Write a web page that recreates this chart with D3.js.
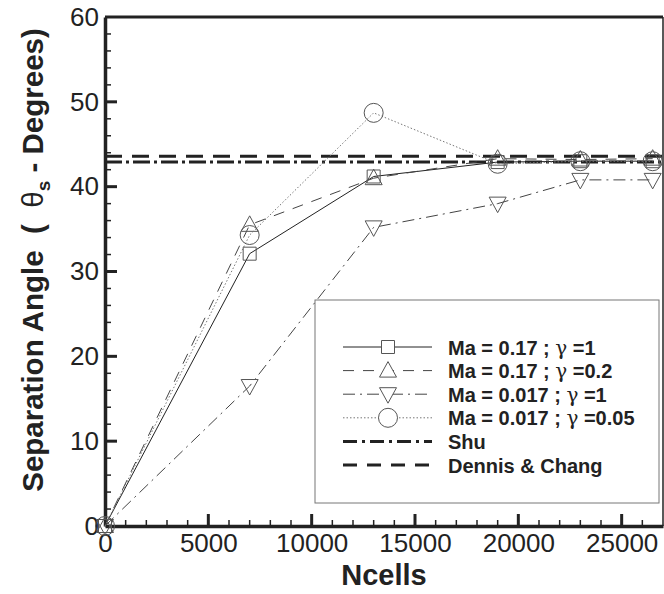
<!DOCTYPE html>
<html>
<head>
<meta charset="utf-8">
<script src="https://cdn.jsdelivr.net/npm/d3@7"></script>
<style>
  body { margin: 0; background: #fff; }
  svg { display: block; font-family: "Liberation Sans", Arial, sans-serif; }
</style>
</head>
<body>
<svg></svg>
<script>
// data
const ncells = [0, 7000, 13000, 19000, 23000, 26500];
const ma017g1 = [0, 32.1, 41.2, 42.9, 43.0, 43.0];
const ma017g02 = [0, 35.5, 41.0, 43.3, 43.2, 43.3];
const ma0017g1 = [0, 16.5, 35.2, 38.0, 40.8, 40.8];
const ma0017g005 = [0, 34.3, 48.7, 42.7, 43.0, 43.0];
const shuAngle = 42.9;
const dennisAngle = 43.6;
const xTicks = [0, 5000, 10000, 15000, 20000, 25000];
const yTicks = [0, 10, 20, 30, 40, 50, 60];

const svg = d3.select("svg").attr("width", 664).attr("height", 594);

const margin = { top: 17, right: 1, bottom: 68, left: 105 };
const width = 664 - margin.left - margin.right;
const height = 594 - margin.top - margin.bottom;

const x = d3.scaleLinear().domain([0, 27000]).range([0, width]);
const y = d3.scaleLinear().domain([0, 60]).range([height, 0]);

const graph = svg.append("g").attr("transform", `translate(${margin.left}, ${margin.top})`);

// frame
graph.append("line").attr("x1", width).attr("x2", width).attr("y1", 0).attr("y2", height)
  .attr("stroke", "#222").attr("stroke-width", 1.5);
graph.append("line").attr("x1", 0).attr("x2", width).attr("y1", 0).attr("y2", 0)
  .attr("stroke", "#222").attr("stroke-width", 3);

// minor ticks
graph.selectAll(".xminor").data(d3.range(1000, 27000, 1000)).enter().append("line")
  .attr("x1", (d) => x(d)).attr("x2", (d) => x(d))
  .attr("y1", height).attr("y2", (d) => d % 5000 === 0 ? height - 12 : height - 6)
  .attr("stroke", "#222").attr("stroke-width", (d) => d % 5000 === 0 ? 3 : 1.5);
graph.selectAll(".yminor").data(d3.range(2, 60, 2)).enter().append("line")
  .attr("y1", (d) => y(d)).attr("y2", (d) => y(d))
  .attr("x1", 0).attr("x2", (d) => d % 10 === 0 ? 12 : 6)
  .attr("stroke", "#222").attr("stroke-width", (d) => d % 10 === 0 ? 3 : 1.5);

// axes
const xAxis = d3.axisBottom(x).tickValues(xTicks).tickSize(0).tickPadding(8).tickFormat(d3.format("d"));
const yAxis = d3.axisLeft(y).tickValues(yTicks).tickSize(0).tickPadding(6);
const xg = graph.append("g").attr("transform", `translate(0, ${height})`).call(xAxis);
const yg = graph.append("g").call(yAxis);
[xg, yg].forEach((g) => {
  g.select(".domain").attr("stroke", "#222").attr("stroke-width", 3.5);
  g.selectAll("text").attr("font-size", 26).attr("fill", "#222")
    .attr("font-family", "Liberation Sans, Arial, sans-serif");
});
xg.selectAll("text").attr("dy", "0.71em");

svg.append("text").attr("x", margin.left + width / 2).attr("y", 585)
  .attr("text-anchor", "middle").attr("font-size", 29).attr("font-weight", "bold")
  .attr("fill", "#222").text("Ncells");

const yt = svg.append("text").attr("transform", "translate(43, 260) rotate(-90)")
  .attr("text-anchor", "middle").attr("font-size", 29.5).attr("font-weight", "bold")
  .attr("fill", "#222").style("white-space", "pre");
yt.append("tspan").text("Separation Angle  (  ");
yt.append("tspan").attr("font-weight", "normal").text("θ");
yt.append("tspan").attr("font-size", 19).attr("dy", 7).text("s");
yt.append("tspan").attr("dy", -7).text(" - Degrees)");

// marker shapes
const markers = {
  square: "M-6.5,-6.5H6.5V6.5H-6.5Z",
  up: "M0,-9L8.5,6.5H-8.5Z",
  down: "M0,9L8.5,-6.5H-8.5Z",
  circle: d3.symbol(d3.symbolCircle, Math.PI * 9.5 * 9.5)(),
};

const series = [
  { name: "Ma = 0.17 ; ", g: "1", values: ma017g1, marker: "square", dash: null, color: "#222" },
  { name: "Ma = 0.17 ; ", g: "0.2", values: ma017g02, marker: "up", dash: "11,9", color: "#444" },
  { name: "Ma = 0.017 ; ", g: "1", values: ma0017g1, marker: "down", dash: "12,5,2,5", color: "#444" },
  { name: "Ma = 0.017 ; ", g: "0.05", values: ma0017g005, marker: "circle", dash: "1.5,2", color: "#777" },
];

const line = d3.line().x((d) => x(d[0])).y((d) => y(d[1]));

// reference lines
graph.append("line").attr("x1", 0).attr("x2", width)
  .attr("y1", y(dennisAngle)).attr("y2", y(dennisAngle))
  .attr("stroke", "#222").attr("stroke-width", 3).attr("stroke-dasharray", "17,10");
graph.append("line").attr("x1", 0).attr("x2", width)
  .attr("y1", y(shuAngle)).attr("y2", y(shuAngle))
  .attr("stroke", "#222").attr("stroke-width", 3).attr("stroke-dasharray", "17,4,3,4");

series.forEach((s) => {
  const pts = ncells.map((n, i) => [n, s.values[i]]);
  graph.append("path").attr("d", line(pts)).attr("fill", "none")
    .attr("stroke", s.color).attr("stroke-width", 1)
    .attr("stroke-dasharray", s.dash);
  graph.selectAll(null).data(pts).enter().append("path")
    .attr("d", markers[s.marker])
    .attr("transform", (d) => `translate(${x(d[0])}, ${y(d[1])})`)
    .attr("fill", "none").attr("stroke", "#555").attr("stroke-width", 1);
});

// legend
const legend = svg.append("g");
legend.append("rect").attr("x", 315).attr("y", 300).attr("width", 344).attr("height", 203)
  .attr("fill", "#fff").attr("stroke", "#777").attr("stroke-width", 1);

const rows = series.map((s) => ({ ...s, width: 1 })).concat([
  { name: "Shu", dash: "14,5,3,5", color: "#222", width: 3, marker: null },
  { name: "Dennis & Chang", dash: "14,10", color: "#222", width: 3, marker: null },
]);
rows.forEach((r, i) => {
  const cy = 347 + i * 23.6;
  legend.append("line").attr("x1", 343).attr("x2", 432).attr("y1", cy).attr("y2", cy)
    .attr("stroke", r.color).attr("stroke-width", r.width).attr("stroke-dasharray", r.dash);
  if (r.marker) {
    legend.append("path").attr("d", markers[r.marker])
      .attr("transform", `translate(388, ${cy})`)
      .attr("fill", "#fff").attr("stroke", "#555").attr("stroke-width", 1);
  }
  const t = legend.append("text").attr("x", 448).attr("y", cy + 7.5)
    .attr("font-size", 20).attr("font-weight", "bold").attr("fill", "#222");
  t.append("tspan").text(r.name);
  if (r.g) {
    t.append("tspan").attr("font-weight", "normal").attr("font-family", "DejaVu Serif, serif").text("γ");
    t.append("tspan").text(" =" + r.g);
  }
});
</script>
</body>
</html>
